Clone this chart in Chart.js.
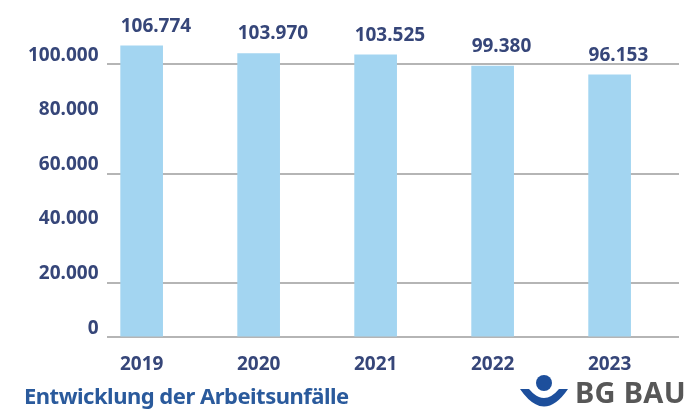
<!DOCTYPE html>
<html>
<head>
<meta charset="utf-8">
<script src="https://cdn.jsdelivr.net/npm/chart.js@4"></script>
<style>
  html, body { margin: 0; padding: 0; background: #fff; }
  #wrap { position: relative; width: 684px; height: 409px; overflow: hidden; }
  #chart { position: absolute; left: 0; top: 0; }
  #title {
    position: absolute; left: 24px; top: 380px;
    font-family: "Noto Sans", sans-serif; font-weight: 700; font-size: 22px;
    color: #2a5a9c; letter-spacing: -0.5px; white-space: nowrap;
  }
  #logo { position: absolute; left: 519px; top: 372px; display: flex; align-items: center; }
  #logo span {
    font-family: "Noto Sans", sans-serif; font-weight: 700; font-size: 29px;
    color: #575757; margin-left: 6px; letter-spacing: 0.3px; white-space: nowrap;
  }
</style>
</head>
<body>
<div id="wrap">
  <canvas id="chart" width="684" height="409"></canvas>
  <div id="title">Entwicklung der Arbeitsunfälle</div>
  <div id="logo">
    <svg width="50" height="36" viewBox="0 0 50 36">
      <circle cx="25" cy="9" r="8" fill="#1d4f9c"/>
      <path d="M1 15 Q25 50 49 15 L40 15 Q25 33 10 15 Z" fill="#1d4f9c"/>
    </svg>
    <span>BG BAU</span>
  </div>
</div>
<script>
  const years = [2019, 2020, 2021, 2022, 2023];
  const accidents = [106774, 103970, 103525, 99380, 96153];
  const yTicks = [0, 20000, 40000, 60000, 80000, 100000];
  const gridValues = [0, 20000, 60000, 100000];

  const fmt = v => v.toLocaleString("de-DE");
  const textColor = "#364679";

  // value labels, left aligned to the bar edge
  const valueLabels = {
    id: "valueLabels",
    afterDatasetsDraw(chart) {
      const c = chart.ctx;
      const meta = chart.getDatasetMeta(0);
      c.save();
      c.font = "700 19px 'Noto Sans', sans-serif";
      c.fillStyle = textColor;
      c.textAlign = "left";
      c.textBaseline = "bottom";
      meta.data.forEach((bar, i) => {
        c.fillText(fmt(accidents[i]), bar.x - bar.width / 2, bar.y - 10);
      });
      c.restore();
    }
  };

  new Chart(document.getElementById("chart"), {
    type: "bar",
    data: {
      datasets: [{
        data: years.map((y, i) => ({ x: y, y: accidents[i] })),
        backgroundColor: "#a3d5f1",
        barThickness: 42
      }]
    },
    options: {
      responsive: false,
      animation: false,
      layout: { padding: { top: 1, right: 5, left: 20, bottom: 25 } },
      plugins: { legend: { display: false }, tooltip: { enabled: false } },
      scales: {
        x: {
          type: "linear",
          min: 2018.70,
          max: 2023.593,
          offset: false,
          afterBuildTicks: scale => { scale.ticks = years.map(v => ({ value: v })); },
          grid: { display: false },
          border: { display: false },
          ticks: {
            color: textColor,
            padding: 8,
            font: { family: "Noto Sans", size: 19, weight: "700" },
            callback: v => String(v)
          }
        },
        y: {
          min: 0,
          max: 116500,
          afterBuildTicks: scale => { scale.ticks = yTicks.map(v => ({ value: v })); },
          border: { display: false },
          grid: {
            drawTicks: false,
            lineWidth: 2,
            color: ctx => gridValues.includes(ctx.tick.value) ? "#b5b5b5" : "rgba(0,0,0,0)"
          },
          ticks: {
            color: textColor,
            padding: 8,
            labelOffset: -9,
            font: { family: "Noto Sans", size: 19, weight: "700" },
            callback: v => fmt(v)
          }
        }
      }
    },
    plugins: [valueLabels]
  });
</script>
</body>
</html>
